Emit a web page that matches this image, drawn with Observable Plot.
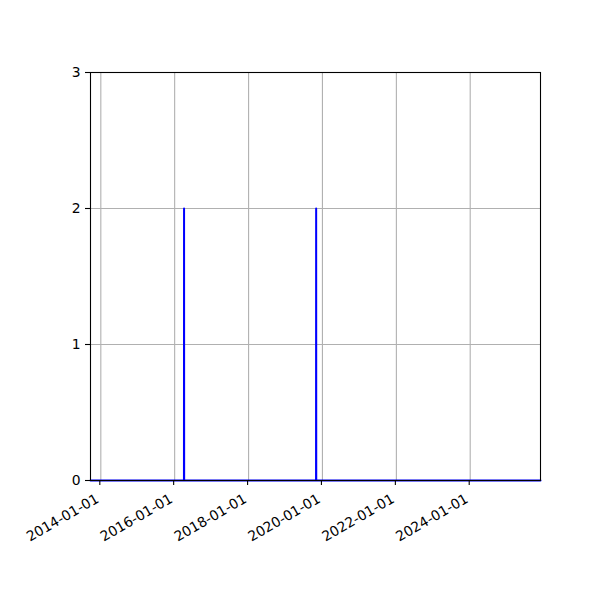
<!DOCTYPE html>
<html>
<head>
<meta charset="utf-8">
<script src="https://cdn.jsdelivr.net/npm/d3@7"></script>
<script src="https://cdn.jsdelivr.net/npm/@observablehq/plot@0.6"></script>
<style>
  html, body { margin: 0; padding: 0; background: #fff; }
  #chart { width: 600px; height: 600px; }
  svg { font-family: "DejaVu Sans", sans-serif; }
</style>
</head>
<body>
<div id="chart"></div>
<script>
const dates = ["2013-09-21", "2016-04-02", "2016-04-03", "2016-04-04", "2019-10-30", "2019-10-31", "2019-11-01", "2025-11-26"];
const counts = [0, 0, 2, 0, 0, 2, 0, 0];
const xTickLabels = ["2014-01-01", "2016-01-01", "2018-01-01", "2020-01-01", "2022-01-01", "2024-01-01"];
const yTicks = [0, 1, 2, 3];
const xDomain = ["2013-09-21", "2025-11-26"];
const yDomain = [0, 3];

const parse = d3.utcParse("%Y-%m-%d");
const data = dates.map((d, i) => ({date: parse(d), count: counts[i]}));
const xTicks = xTickLabels.map(parse);

const chart = Plot.plot({
  width: 600,
  height: 600,
  marginLeft: 90,
  marginRight: 60,
  marginTop: 72,
  marginBottom: 120,
  style: {fontFamily: "DejaVu Sans, sans-serif", fontSize: "13.9px", background: "#fff", color: "black"},
  x: {type: "utc", domain: xDomain.map(parse)},
  y: {domain: yDomain},
  marks: [
    Plot.gridX(xTicks, {stroke: "#b0b0b0", strokeOpacity: 1, strokeWidth: 1.1}),
    Plot.gridY(yTicks, {stroke: "#b0b0b0", strokeOpacity: 1, strokeWidth: 1.1}),
    Plot.line(data, {x: "date", y: "count", stroke: "blue", strokeWidth: 2, curve: "linear"}),
    Plot.frame({stroke: "black", strokeWidth: 1.1}),
    Plot.axisY(yTicks, {tickSize: 5, tickPadding: 5, label: null, tickFormat: d3.format("d"), fontSize: 13.9, strokeWidth: 1.1}),
    Plot.axisX(xTicks, {tickSize: 5, tickPadding: 16, tickRotate: -30, textAnchor: "end", lineAnchor: "bottom", dx: -1, label: null, tickFormat: d3.utcFormat("%Y-%m-%d"), fontSize: 13.9, strokeWidth: 1.1})
  ]
});
document.getElementById("chart").appendChild(chart);
</script>
</body>
</html>
